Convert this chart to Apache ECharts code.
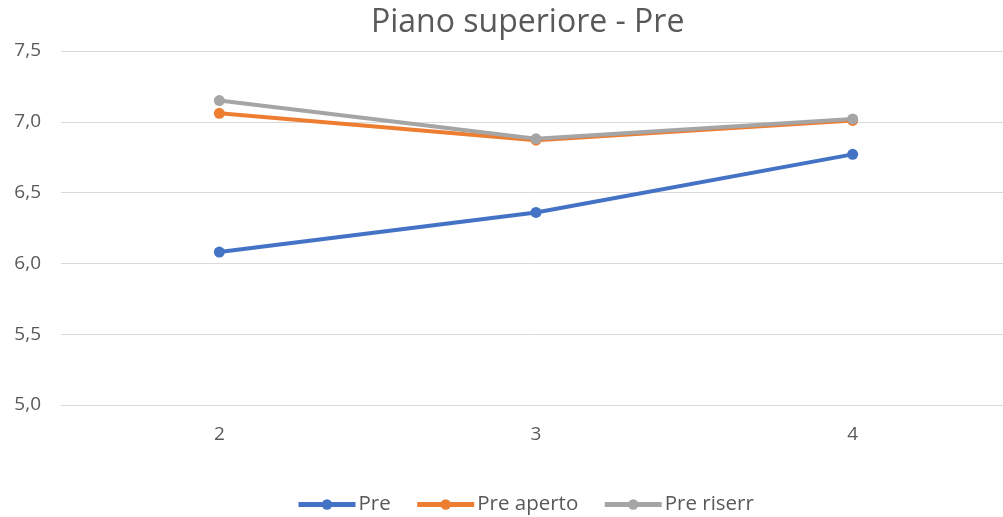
<!DOCTYPE html>
<html>
<head>
<meta charset="utf-8">
<script src="https://cdn.jsdelivr.net/npm/echarts@6/dist/echarts.min.js"></script>
<style>
  html, body { margin: 0; padding: 0; background: #fff; }
  #chart { width: 1003px; height: 517px; }
</style>
</head>
<body>
<div id="chart"></div>
<script>
// Categories and series values
const categories = ['2', '3', '4'];
const pre = [6.08, 6.36, 6.77];
const preAperto = [7.06, 6.87, 7.01];
const preRiserr = [7.15, 6.88, 7.02];

const seriesNames = ['Pre', 'Pre aperto', 'Pre riserr'];
const seriesData = [pre, preAperto, preRiserr];
const colors = ['#4472C4', '#ED7D31', '#A5A5A5'];

const fontFamily = '"Open Sans", "Noto Sans", sans-serif';

const chart = echarts.init(document.getElementById('chart'));
chart.setOption({
  animation: false,
  color: colors,
  title: {
    text: 'Piano superiore - Pre',
    left: 366,
    top: 2,
    textStyle: { fontFamily, fontSize: 32, fontWeight: 'normal', color: '#595959' }
  },
  legend: {
    top: 494,
    left: 296,
    padding: 0,
    itemWidth: 57,
    itemHeight: 13,
    itemGap: 24,
    lineStyle: { width: 5 },
    textStyle: { fontFamily, fontSize: 20.5, color: '#595959', padding: [0, 0, 0, -2] },
    data: seriesNames
  },
  grid: {
    left: 61, width: 950, top: 51, bottom: 112,
    containLabel: false, outerBoundsMode: 'none'
  },
  xAxis: {
    type: 'category',
    data: categories,
    boundaryGap: true,
    axisLine: { show: true, lineStyle: { color: '#D9D9D9', width: 1 } },
    axisTick: { show: false },
    axisLabel: { fontFamily, fontSize: 19, color: '#595959', margin: 20 }
  },
  yAxis: {
    type: 'value',
    min: 5,
    max: 7.5,
    interval: 0.5,
    axisLine: { show: false },
    axisTick: { show: false },
    splitLine: { lineStyle: { color: '#D9D9D9', width: 1 } },
    axisLabel: {
      fontFamily, fontSize: 19, color: '#595959', margin: 20,
      formatter: v => v.toFixed(1).replace('.', ',')
    }
  },
  series: seriesNames.map((name, i) => ({
    name,
    type: 'line',
    data: seriesData[i],
    symbol: 'circle',
    symbolSize: 11,
    lineStyle: { width: 4, color: colors[i] },
    itemStyle: { color: colors[i] }
  }))
});
</script>
</body>
</html>
